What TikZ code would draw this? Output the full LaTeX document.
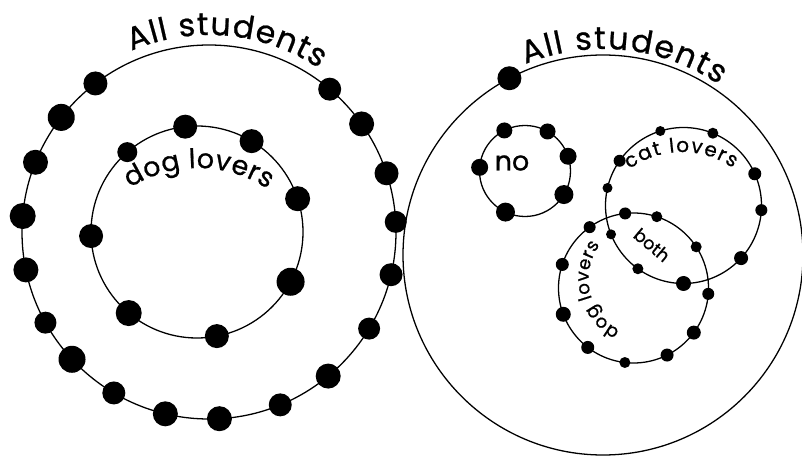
\documentclass[tikz,border=0pt]{standalone}
\usepackage{fontspec}
\newfontfamily\vennfont[FakeBold=0.8]{Poppins}
\usetikzlibrary{calc, decorations.text}
\tikzset{
	ring/.style={draw=black, line width=1.1pt},
	dot/.style={circle, fill=black, inner sep=0pt},
	arc_label/.style={decorate, decoration={text along path, text align=fit to path, text={#1}}},
	plain_label/.style={inner sep=0pt}
}

\begin{document}
\begin{tikzpicture}[x=0.3mm, y=0.3mm]
	\useasboundingbox (0,0) rectangle (802,461);
	\coordinate (cAllL) at (209,229);
	\coordinate (cDogL) at (197,229);
	\coordinate (cAllR) at (603,206);
	\coordinate (cNo) at (525,290);
	\coordinate (cCat) at (683.5,255.5);
	\coordinate (cDogR) at (633.5,173);
	\draw[ring] (cAllL) circle[radius=187];
	\draw[ring] (cDogL) circle[radius=106];
	\draw[ring] (cAllR) circle[radius=200];
	\draw[ring] (cNo) circle[radius=45.5];
	\draw[ring] (cCat) circle[radius=78];
	\draw[ring] (cDogR) circle[radius=75];
	\foreach \ang/\sz [count=\i] in {127.4/24, 142.2/27, 158.1/25, 175.1/26, 191.7/25, 209/22, 222.9/27, 239.4/23, 256.5/25, 273.2/25, 292.4/23, 309.6/25, 328.9/22, 346.8/23, 3.1/22, 18.3/24, 35.3/25, 49.8/23}
		\node[dot, minimum size=\sz*0.3mm] (dAllL\i) at ($(cAllL)+(\ang:187)$) {};
	\foreach \ang/\sz [count=\i] in {131.1/20, 96.4/24, 59/24, 18.3/25, 182.2/24, 332/28, 229.9/26, 280.8/24}
		\node[dot, minimum size=\sz*0.3mm] (dDogL\i) at ($(cDogL)+(\ang:106)$) {};
	\node[dot, minimum size=24*0.3mm] (dAllR1) at ($(cAllR)+(117.9:200)$) {};
	\foreach \ang/\sz [count=\i] in {117/16, 60.3/16, 18.9/17, 328.8/19, 244.6/19, 175.4/17}
		\node[dot, minimum size=\sz*0.3mm] (dNo\i) at ($(cNo)+(\ang:45.5)$) {};
	\foreach \ang/\sz [count=\i] in {107.3/10, 67.9/11, 145/12, 24/13, 167/10, 356.6/12, 317.6/14, 201.7/10, 234.2/11, 270/15}
		\node[dot, minimum size=\sz*0.3mm] (dCat\i) at ($(cCat)+(\ang:78)$) {};
	\foreach \ang/\sz [count=\i] in {96.4/12, 71.9/11, 125.8/12, 33.3/11, 161.7/13, 355.5/12, 200.5/15, 323.5/14, 232.4/13, 296.6/13, 263.4/11}
		\node[dot, minimum size=\sz*0.3mm] (dDogR\i) at ($(cDogR)+(\ang:75)$) {};
	\path[arc_label={|\vennfont\fontsize{27}{27}\selectfont|All students}] ($(cAllL)+(113.2:197)$) arc[start angle=113.2, end angle=56.1, radius=197];
	\path[arc_label={|\vennfont\fontsize{23}{23}\selectfont|dog lovers}] ($(198,167)+(122.7:126)$) arc[start angle=122.7, end angle=56.4, radius=126];
	\path[arc_label={|\vennfont\fontsize{27}{27}\selectfont|All students}] ($(cAllR)+(112.1:206)$) arc[start angle=112.1, end angle=55.8, radius=206];
	\path[arc_label={|\vennfont\fontsize{17}{17}\selectfont|cat lovers}] ($(682,220)+(126.2:89)$) arc[start angle=126.2, end angle=55, radius=89];
	\path[arc_label={|\vennfont\fontsize{15.5}{15.5}\selectfont|dog lovers}] ($(646,182)+(243:57.5)$) arc[start angle=243, end angle=143.5, radius=57.5];
	\node[plain_label, font=\vennfont\fontsize{23}{23}\selectfont] (lblNo) at (512,298) {no};
	\node[plain_label, font=\vennfont\fontsize{15}{15}\selectfont, rotate=-40] (lblBoth) at (652,216) {both};
\end{tikzpicture}
\end{document}
